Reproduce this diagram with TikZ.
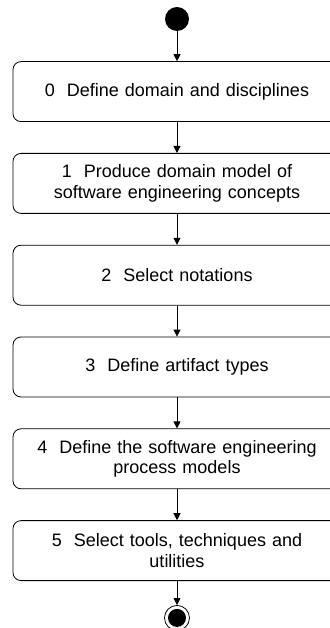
\documentclass[tikz,border=0pt]{standalone}
\usepackage{fontspec}
\setmainfont{Liberation Sans}
\usepackage{tikz}
\usetikzlibrary{arrows.meta,positioning}

\tikzset{
  activity/.style={draw, line width=0.8pt, rounded corners=8pt,
    minimum width=328pt, minimum height=60pt, text width=300pt,
    align=center, font=\fontsize{18}{20.5}\selectfont},
  flow/.style={-{Triangle[length=7pt,width=7pt]}, line width=0.8pt},
}

\begin{document}
\begin{tikzpicture}[x=1pt,y=1pt,node distance=31pt]
        \useasboundingbox (0,0) rectangle (329,-628);

        % initial state
        \node[circle, fill=black, minimum size=24pt, inner sep=0pt] (start) at (177,-19) {};

        % activities
        \node[activity, below=30pt of start] (s0) {0~~Define domain and disciplines};
        \node[activity, below=of s0] (s1) {1~~Produce domain model of\\software engineering concepts};
        \node[activity, below=of s1] (s2) {2~~Select notations};
        \node[activity, below=of s2] (s3) {3~~Define artifact types};
        \node[activity, below=of s3] (s4) {4~~Define the software engineering\\process models};
        \node[activity, below=of s4] (s5) {5~~Select tools, techniques and\\utilities};

        % final state
        \node[circle, draw, line width=0.8pt, minimum size=25pt, inner sep=0pt, below=24pt of s5] (stop) {};
        \node[circle, fill=black, minimum size=18pt, inner sep=0pt] (stopdot) at (stop) {};

        % flows
        \draw[flow] (start) -- (s0);
        \draw[flow] (s0) -- (s1);
        \draw[flow] (s1) -- (s2);
        \draw[flow] (s2) -- (s3);
        \draw[flow] (s3) -- (s4);
        \draw[flow] (s4) -- (s5);
        \draw[flow] (s5) -- (stop);
\end{tikzpicture}
\end{document}
